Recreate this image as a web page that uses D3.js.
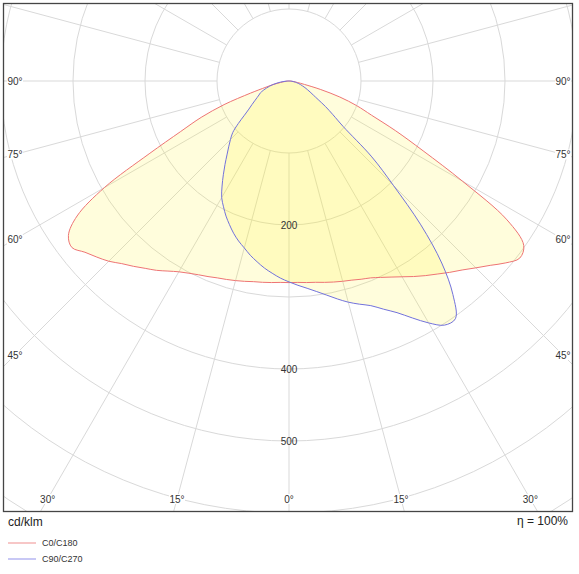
<!DOCTYPE html>
<html>
<head>
<meta charset="utf-8">
<script src="https://cdn.jsdelivr.net/npm/d3@7"></script>
<style>
  body { margin: 0; background: #fff; }
  svg { display: block; font-family: "Liberation Sans", Arial, sans-serif; }
  .grid line, .grid circle { stroke: #d9d9d9; stroke-width: 1; fill: none; }
  .angle-label, .radius-label { font-size: 10px; fill: #333; }
</style>
</head>
<body>
<svg id="chart" width="579" height="574"></svg>
<script>
// Polar light distribution (cd/klm), gamma measured from the downward vertical.

const gammaAngles = [0, 2.5, 5, 7.5, 10, 12.5, 15, 17.5, 20, 22.5, 25, 27.5, 30, 32.5, 35, 37.5, 40, 42.5, 45,
  47.5, 50, 52.5, 55, 57.5, 60, 62.5, 65, 67.5, 70, 72.5, 75, 77.5, 80, 82.5, 85, 87.5, 90];

// C0/C180 plane (red): C0 drawn to the right, C180 to the left
const c0 = [280, 280, 281, 282, 284, 286, 288, 290, 293, 296, 301, 307, 314, 322, 330, 338, 347, 356, 367,
  379, 393, 404, 398, 359, 278, 210, 163, 124, 100, 74, 45, 22, 12, 7, 4, 2, 0];
const c180 = [280, 280, 281, 282, 283, 285, 287, 289, 291, 294, 297, 301, 306, 313, 321, 328, 336, 344, 354,
  362, 370, 380, 374, 349, 296, 219, 166, 132, 96, 56, 33, 22, 12, 7, 4, 2, 0];

// C90/C270 plane (blue): C90 drawn to the right, C270 to the left
const c90 = [279, 284, 289, 295, 302, 310, 318, 325, 332, 343, 355, 371, 388, 402, 403, 374, 330, 271, 205,
  156, 98, 77, 62, 48, 39, 33, 28, 24, 20, 17, 14, 11, 9, 6, 4, 2, 0];
const c270 = [279, 274, 268, 262, 255, 248, 240, 233, 225, 216, 207, 197, 187, 173, 159, 146, 134, 124, 115,
  106, 92, 78, 68, 61, 55, 50, 46, 43, 38, 33, 28, 23, 17, 12, 7, 3, 0];

const gridValues = [100, 200, 300, 400, 500, 600, 700];
const radiusLabels = [200, 400, 500];
const spokeAngles = [0, 15, 30, 45, 60, 75, 90, 105, 120, 135, 150, 165, 180, 195, 210, 225, 240, 255, 270,
  285, 300, 315, 330, 345];
const angleLabels = [0, 15, 30, 45, 60, 75, 90];

const seriesInfo = [
  { name: "C0/C180", right: c0, left: c180, stroke: "#ee7474", legend: "#f3a9a9" },
  { name: "C90/C270", right: c90, left: c270, stroke: "#7272dc", legend: "#aaaaf0" },
];

const box = { x: 3, y: 3, w: 570, h: 509 };
const cx = 289, cy = 81;

const svg = d3.select("#chart");
const rScale = d3.scaleLinear().domain([0, 700]).range([0, 504]);
const rad = (deg) => (deg * Math.PI) / 180;

svg.append("defs").append("clipPath").attr("id", "plot-clip")
  .append("rect").attr("x", box.x).attr("y", box.y).attr("width", box.w).attr("height", box.h);

const plot = svg.append("g").attr("clip-path", "url(#plot-clip)");
const centre = plot.append("g").attr("transform", `translate(${cx},${cy})`);

// grid: circles and spokes (spokes start at the first ring)
const grid = centre.append("g").attr("class", "grid");
grid.selectAll("circle").data(gridValues).join("circle").attr("r", (d) => rScale(d));
grid.selectAll("line").data(spokeAngles).join("line")
  .attr("x1", (d) => rScale(100) * Math.sin(rad(d)))
  .attr("y1", (d) => rScale(100) * Math.cos(rad(d)))
  .attr("x2", (d) => rScale(1000) * Math.sin(rad(d)))
  .attr("y2", (d) => rScale(1000) * Math.cos(rad(d)));

// curves: left half from 90 down to 0, then right half 0 to 90
const line = d3.lineRadial()
  .angle((d) => d.a)
  .radius((d) => rScale(d.v))
  .curve(d3.curveCatmullRom.alpha(0.5));

function curvePoints(s) {
  const left = gammaAngles.map((g, i) => ({ a: Math.PI + rad(g), v: s.left[i] })).reverse();
  const right = gammaAngles.map((g, i) => ({ a: Math.PI - rad(g), v: s.right[i] })).slice(1);
  return left.concat(right);
}

centre.selectAll(".fill").data(seriesInfo).join("path")
  .attr("class", "fill")
  .attr("d", (s) => line(curvePoints(s)))
  .attr("fill", "#fff52e")
  .attr("fill-opacity", 0.17)
  .attr("stroke", "none");

centre.selectAll(".curve").data(seriesInfo).join("path")
  .attr("class", "curve")
  .attr("d", (s) => line(curvePoints(s)))
  .attr("fill", "none")
  .attr("stroke", (s) => s.stroke)
  .attr("stroke-width", 1);

// intensity labels down the 0 degree axis
centre.selectAll(".radius-label").data(radiusLabels).join("text")
  .attr("class", "radius-label")
  .attr("x", 0)
  .attr("y", (d) => rScale(d))
  .attr("dy", "0.35em")
  .attr("text-anchor", "middle")
  .text((d) => d);

// angle labels, placed where each ray meets the inner frame
const inner = { left: 15 - cx, right: 563 - cx, bottom: 499 - cy };
function labelPos(deg, side) {
  const s = Math.sin(rad(deg)), c = Math.cos(rad(deg));
  const tx = s > 0 ? (side > 0 ? inner.right : -inner.left) / s : Infinity;
  const ty = c > 0 ? inner.bottom / c : Infinity;
  const t = Math.min(tx, ty);
  return [side * s * t, c * t];
}
const angleItems = [];
angleLabels.forEach((deg) => {
  if (deg === 0) angleItems.push({ deg, side: 1 });
  else { angleItems.push({ deg, side: -1 }); angleItems.push({ deg, side: 1 }); }
});
const alabels = centre.selectAll(".angle-item").data(angleItems).join("g")
  .attr("class", "angle-item")
  .attr("transform", (d) => `translate(${labelPos(d.deg, d.side)})`);
alabels.append("rect")
  .attr("x", -8).attr("y", -5).attr("width", 16).attr("height", 10)
  .attr("fill", "#fff");
alabels.append("text")
  .attr("class", "angle-label")
  .attr("text-anchor", "middle")
  .attr("dy", "0.35em")
  .text((d) => `${d.deg}°`);

// frame
svg.append("rect")
  .attr("x", box.x + 0.5).attr("y", box.y + 0.5)
  .attr("width", box.w - 1).attr("height", box.h - 1)
  .attr("fill", "none").attr("stroke", "#454545").attr("stroke-width", 1.3);

svg.append("text").attr("x", 8).attr("y", 526)
  .attr("font-size", 12).attr("fill", "#222").text("cd/klm");
svg.append("text").attr("x", 568).attr("y", 525).attr("text-anchor", "end")
  .attr("font-size", 12).attr("fill", "#222").text("η = 100%");

// legend
const legend = svg.append("g").attr("transform", "translate(8,543)");
const items = legend.selectAll("g").data(seriesInfo).join("g")
  .attr("transform", (d, i) => `translate(0,${i * 16})`);
items.append("line").attr("x1", 0).attr("x2", 28).attr("y1", 0).attr("y2", 0)
  .attr("stroke", (d) => d.legend).attr("stroke-width", 1.3);
items.append("text").attr("x", 34).attr("y", 0).attr("dy", "0.38em")
  .attr("font-size", 9).attr("fill", "#333").text((d) => d.name);
</script>
</body>
</html>
